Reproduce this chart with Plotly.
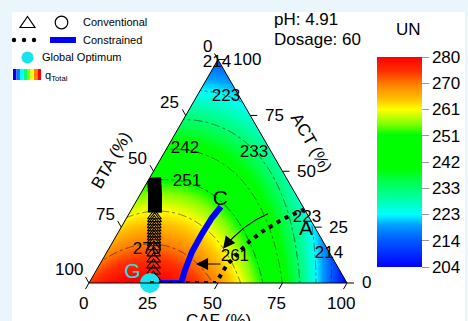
import numpy as np
import plotly.graph_objects as go

FONT = "Liberation Sans, Arial, sans-serif"

# ---------------- data (compositions in %, ACT / CAF; BTA = 100 - ACT - CAF) ----------------
# q_Total (UN) values: vertices, contour crossings on edges, contour labels
obs_act = [100, 0, 0, 13, 30, 45.5, 60, 73, 85.5, 0, 0, 0, 0, 0, 0, 0, 0, 0, 0,
           13, 29, 55, 80, 83.4, 60.25, 58.2, 52, 45.4, 15.06, 11.7]
obs_caf = [0, 0, 100, 0, 0, 0, 0, 0, 0, 12, 24, 36, 50, 60, 68, 74, 80, 87, 94.5,
           87, 71, 45, 20, 11.4, 7.1, 34.85, 41.4, 15.3, 14.95, 50.7]
obs_q = [213, 275, 204, 270, 261, 251, 242, 233, 223, 278.5, 280, 278.5, 270, 261, 251, 242, 233, 223, 214,
         214, 223, 230, 223, 223, 242, 233, 233, 251, 270, 261]

cbar_vals = [204, 213.5, 223, 232.5, 242, 251.5, 261, 270.5, 280]
cbar_text = ["204", "214", "223", "233", "242", "251", "261", "270", "280"]

tick_vals = [0, 25, 50, 75, 100]
tick_text = ["0", "25", "50", "75", "100"]

lab_act = [98.6, 83.4, 60.25, 58.2, 45.4, 15.06, 11.7, 29.0, 13.26]
lab_caf = [0.3, 11.4, 7.1, 34.85, 15.3, 14.95, 50.7, 70.0, 86.4]
lab_text = ["214", "223", "242", "233", "251", "270", "261", "223", "214"]

# conventional path (dense part drawn as a band, lower part as triangles)
conv_band_act = [47.2, 39.6, 31.5]
conv_band_caf = [1.6, 5.8, 9.8]
conv_tri_act = [30.1, 28.8, 27.4, 26.1, 24.7, 23.4, 22.0, 20.7, 19.3, 18.0, 16.2, 13.5, 10.8, 8.1, 5.4, 2.7]
conv_tri_caf = [10.3, 11.0, 11.6, 12.25, 12.95, 13.55, 14.25, 14.87, 15.55, 16.2, 17.06, 18.35, 19.65, 20.95, 22.3, 23.6]

# constrained paths
con_blue_act = [0, 0, 5.85, 13.9, 22.0, 29.2, 34.2]
con_blue_caf = [23.6, 35.7, 34.3, 32.95, 32.8, 33.07, 34.06]
con_dot_act = [0, 0, 4.5, 8.1, 11.7, 15.3, 18.9, 21.6, 23.8, 25.6, 27.9, 29.7, 31.5, 32.8]
con_dot_caf = [23.6, 49.2, 49.3, 49.4, 50.7, 51.7, 53.0, 54.7, 56.3, 58.1, 60.1, 62.3, 64.9, 66.9]

arrow_curve_act = [31.0, 28.3, 24.7, 20.7, 17.5]
arrow_curve_caf = [53.9, 50.6, 47.7, 45.86, 44.7]
arrow_curve_head = (15.3, 44.3)
arrow_straight_tail = (8.5, 47.3)
arrow_straight_head = (8.5, 37.2)

opt_act, opt_caf = [0.0], [23.6]
pt_names = ["C", "A"]
pt_act = [37.1, 24.05]
pt_caf = [32.4, 72.1]
g_act, g_caf = [4.7], [14.5]

# ---------------- geometry ----------------
W_PX, H_PX = 468, 321
TRI_X0, TRI_Y0, TRI_W = 89, 283, 258
SQ3 = np.sqrt(3) / 2
TRI_H = TRI_W * SQ3
M = 8  # px of extra room around the triangle for the hidden cartesian axes


def px(x, y):
    return x / W_PX, (H_PX - y) / H_PX


tern_dom_x = [TRI_X0 / W_PX, (TRI_X0 + TRI_W) / W_PX]
tern_dom_y = [(H_PX - TRI_Y0) / H_PX, (H_PX - TRI_Y0 + TRI_H) / H_PX]
cart_dom_x = [(TRI_X0 - M) / W_PX, (TRI_X0 + TRI_W + M) / W_PX]
cart_dom_y = [(H_PX - TRI_Y0 - M) / H_PX, (H_PX - TRI_Y0 + TRI_H + M) / H_PX]
mu = M / TRI_W


def to_xy(act, caf):
    a = np.asarray(act, float) / 100
    c = np.asarray(caf, float) / 100
    return c + a / 2, a * SQ3


def bta(act, caf):
    return [100 - a - c for a, c in zip(act, caf)]


# ---------------- response surface (cubic Scheffe fit to the read values) ----------------
def basis(a, b, c):
    return np.stack([a, b, c, a * b, a * c, b * c, a * b * (a - b), a * c * (a - c), b * c * (b - c), a * b * c], axis=-1)


oa = np.array(obs_act) / 100
oc = np.array(obs_caf) / 100
coef, *_ = np.linalg.lstsq(basis(oa, 1 - oa - oc, oc), np.array(obs_q, float), rcond=None)
xs = np.linspace(-mu, 1 + mu, 340)
ys = np.linspace(-mu, SQ3 + mu, 296)
X, Y = np.meshgrid(xs, ys)
A = Y / SQ3
C = X - A / 2
B = 1 - A - C
Z = basis(A, B, C) @ coef
Zh = np.where(np.minimum(np.minimum(A, B), C) < -0.012, np.nan, Z)

jet = [
    [0.0, "#0000ff"], [0.07, "#0032ff"], [0.14, "#0064ff"], [0.20, "#00a0ff"], [0.25, "#00ffff"],
    [0.33, "#00ffa0"], [0.42, "#00ff40"], [0.47, "#00ff00"], [0.63, "#00ff00"], [0.68, "#80ff00"],
    [0.75, "#ffff00"], [0.80, "#ffc000"], [0.87, "#ff8000"], [0.93, "#ff3000"], [1.0, "#ff0000"],
]

fig = go.Figure()
fig.add_trace(go.Heatmap(
    x=xs, y=ys, z=Zh, zmin=204, zmax=280, colorscale=jet, hoverinfo="skip",
    colorbar=dict(thickness=45, thicknessmode="pixels", len=210, lenmode="pixels",
                  x=377 / W_PX, xanchor="left", xpad=0, y=(H_PX - 162) / H_PX, yanchor="middle", ypad=0,
                  tickmode="array", tickvals=cbar_vals, ticktext=cbar_text, ticks="outside",
                  ticklen=7, tickcolor="#999999", outlinewidth=0,
                  tickfont=dict(family=FONT, size=17, color="black")),
))
fig.add_trace(go.Contour(
    x=xs, y=ys, z=Z, autocontour=False, showscale=False, hoverinfo="skip",
    contours=dict(start=213.5, end=270.5, size=9.5, coloring="none", showlabels=False),
    line=dict(color="rgba(40,40,40,0.8)", width=0.8, dash="dashdot"),
))
# white masks outside the triangle (overlapping, clipped by the hidden axes)
k = 1 / (2 * SQ3)
masks = [
    [(-1, -1), (2, -1), (2, 0), (-1, 0)],
    [(-k, -1), (2 * k, 2), (-1, 2), (-1, -1)],
    [(1 + k, -1), (1 - 2 * k, 2), (2, 2), (2, -1)],
]
for poly in masks:
    fig.add_trace(go.Scatter(x=[p[0] for p in poly] + [poly[0][0]], y=[p[1] for p in poly] + [poly[0][1]],
                             mode="lines", fill="toself", fillcolor="white", line=dict(width=0),
                             hoverinfo="skip"))

# tick marks (left: parallel to right edge, bottom: parallel to left edge, right: horizontal)
L = 7 / TRI_W
tx_, ty_ = [], []
for v in tick_vals:
    for (act, caf), (dx, dy) in (((100 - v, 0), (-0.5 * L, SQ3 * L)),
                                 ((0, v), (-0.5 * L, -SQ3 * L)),
                                 ((v, 100 - v), (L, 0))):
        x0, y0 = to_xy(act, caf)
        tx_ += [float(x0), float(x0) + dx, None]
        ty_ += [float(y0), float(y0) + dy, None]
fig.add_trace(go.Scatter(x=tx_, y=ty_, mode="lines", line=dict(color="black", width=1), hoverinfo="skip"))

# ternary traces
fig.add_trace(go.Scatterternary(a=conv_band_act, b=bta(conv_band_act, conv_band_caf), c=conv_band_caf,
                                mode="lines", line=dict(color="black", width=14), hoverinfo="skip"))
fig.add_trace(go.Scatterternary(a=conv_tri_act, b=bta(conv_tri_act, conv_tri_caf), c=conv_tri_caf,
                                mode="markers", marker=dict(symbol="triangle-up-open", size=12, color="black",
                                                            line=dict(width=1.1)), hoverinfo="skip"))
fig.add_trace(go.Scatterternary(a=con_blue_act, b=bta(con_blue_act, con_blue_caf), c=con_blue_caf,
                                mode="lines", line=dict(color="#0000ff", width=6), hoverinfo="skip",
                                cliponaxis=False))
fig.add_trace(go.Scatterternary(a=opt_act, b=bta(opt_act, opt_caf), c=opt_caf, mode="markers",
                                marker=dict(size=20, color="#19e3ee"), cliponaxis=False, hoverinfo="skip"))
fig.add_trace(go.Scatterternary(a=con_dot_act, b=bta(con_dot_act, con_dot_caf), c=con_dot_caf,
                                mode="lines", line=dict(color="black", width=4, dash="4px,5px"),
                                hoverinfo="skip", cliponaxis=False))
fig.add_trace(go.Scatterternary(a=arrow_curve_act, b=bta(arrow_curve_act, arrow_curve_caf), c=arrow_curve_caf,
                                mode="lines", line=dict(color="black", width=1.1), hoverinfo="skip"))
fig.add_trace(go.Scatterternary(a=lab_act, b=bta(lab_act, lab_caf), c=lab_caf, mode="text", text=lab_text,
                                textfont=dict(family=FONT, size=17, color="black"), cliponaxis=False,
                                hoverinfo="skip"))
fig.add_trace(go.Scatterternary(a=pt_act, b=bta(pt_act, pt_caf), c=pt_caf, mode="text", text=pt_names,
                                textfont=dict(family=FONT, size=21, color="black"), cliponaxis=False,
                                hoverinfo="skip"))
fig.add_trace(go.Scatterternary(a=g_act, b=bta(g_act, g_caf), c=g_caf, mode="text", text=["G"],
                                textfont=dict(family=FONT, size=21, color="#19e3ee"), cliponaxis=False,
                                hoverinfo="skip"))

axis_style = dict(ticks="", showticklabels=False, linecolor="black", linewidth=1, showgrid=False,
                  showline=True, title=dict(text=""))

annotations = []


def ann(x, y, text, size=17, color="black", xanchor="center", angle=0):
    xp, yp = px(x, y)
    annotations.append(dict(x=xp, y=yp, xref="paper", yref="paper", text=text, showarrow=False,
                            xanchor=xanchor, yanchor="middle", textangle=angle,
                            font=dict(family=FONT, size=size, color=color)))


# tick labels placed at the tick points of each ternary edge
for v, t in zip(tick_vals, tick_text):
    for (act, caf), xa, xsh, ysh in (((100 - v, 0), "right", -4.5, 13),   # BTA (left edge)
                                     ((0, v), "center", -6, -21),         # CAF (bottom edge)
                                     ((v, 100 - v), "left", 12.5, 0)):    # ACT (right edge)
        x0, y0 = to_xy(act, caf)
        annotations.append(dict(x=float(x0), y=float(y0), xref="x", yref="y", text=t, showarrow=False,
                                xanchor=xa, yanchor="middle", xshift=xsh, yshift=ysh,
                                font=dict(family=FONT, size=17, color="black")))

ann(111.5, 161, "BTA (%)", angle=-60)
ann(311, 142.5, "ACT (%)", angle=60)
ann(218, 320, "CAF (%)")
ann(272, 19.5, "pH: 4.91", xanchor="left")
ann(272, 39.5, "Dosage: 60", xanchor="left")
ann(408.5, 29, "UN")
ann(81, 22, "Conventional", size=11, xanchor="left")
ann(81, 40, "Constrained", size=11, xanchor="left")
ann(40, 57.5, "Global Optimum", size=11, xanchor="left")
ann(43, 76, "q<sub>Total</sub>", size=11, xanchor="left")

for (ta, tc), (ha, hc) in ((arrow_straight_tail, arrow_straight_head),
                           ((arrow_curve_act[-1], arrow_curve_caf[-1]), arrow_curve_head)):
    tx, ty = to_xy(ta, tc)
    hx, hy = to_xy(ha, hc)
    annotations.append(dict(x=float(hx), y=float(hy), ax=float(tx), ay=float(ty), xref="x", yref="y",
                            axref="x", ayref="y", text="", showarrow=True, arrowhead=2, arrowsize=2.2,
                            arrowwidth=1.1, arrowcolor="black", standoff=0))

shapes = []
x0p, y0p = px(12, 12)
x1p, y1p = px(465, 330)
shapes.append(dict(type="rect", xref="paper", yref="paper", x0=x0p, x1=x1p, y0=y1p, y1=y0p,
                   fillcolor="white", line=dict(width=0), layer="below"))


def pth(points):
    s = ""
    for i, (x, y) in enumerate(points):
        xp, yp = px(x, y)
        s += ("M" if i == 0 else "L") + f"{xp:.5f},{yp:.5f}"
    return s + "Z"


shapes.append(dict(type="path", xref="paper", yref="paper", path=pth([(20, 27.5), (35, 27.5), (27.5, 16.5)]),
                   line=dict(color="black", width=1.2)))


def circ(cx, cy, r, fill, line_w=0, line_c="black"):
    xa, ya = px(cx - r, cy + r)
    xb, yb = px(cx + r, cy - r)
    shapes.append(dict(type="circle", xref="paper", yref="paper", x0=xa, x1=xb, y0=ya, y1=yb,
                       fillcolor=fill, line=dict(width=line_w, color=line_c)))


circ(61.5, 22.5, 6.3, "rgba(0,0,0,0)", 1.2)
for dx in (14, 24, 34):
    circ(dx, 40, 2.2, "black")
la, lb = px(50, 40), px(76, 40)
shapes.append(dict(type="line", xref="paper", yref="paper", x0=la[0], y0=la[1], x1=lb[0], y1=lb[1],
                   line=dict(color="#0000ff", width=6)))
circ(27.5, 57.5, 6, "#19e3ee")
grad = ["#0000ff", "#0080ff", "#00ffff", "#00ff80", "#80ff00", "#ffff00", "#ff8000", "#ff0000"]
for i, col in enumerate(grad):
    xa, ya = px(13 + i * 3.5, 80)
    xb, yb = px(13 + (i + 1) * 3.5, 69)
    shapes.append(dict(type="rect", xref="paper", yref="paper", x0=xa, x1=xb, y0=ya, y1=yb,
                       fillcolor=col, line=dict(width=0)))

fig.update_layout(
    width=W_PX, height=H_PX, autosize=False, margin=dict(l=0, r=0, t=0, b=0, pad=0),
    paper_bgcolor="#eaf5fc", plot_bgcolor="rgba(0,0,0,0)", showlegend=False,
    xaxis=dict(domain=cart_dom_x, range=[-mu, 1 + mu], visible=False, fixedrange=True),
    yaxis=dict(domain=cart_dom_y, range=[-mu, SQ3 + mu], visible=False, fixedrange=True),
    ternary=dict(sum=100, domain=dict(x=tern_dom_x, y=tern_dom_y), bgcolor="rgba(0,0,0,0)",
                 aaxis=axis_style, baxis=axis_style, caxis=axis_style),
    annotations=annotations, shapes=shapes,
)
fig.write_html("out.html", config={"displayModeBar": False},
               post_script="document.body.style.margin='0';document.body.style.overflow='hidden';")
